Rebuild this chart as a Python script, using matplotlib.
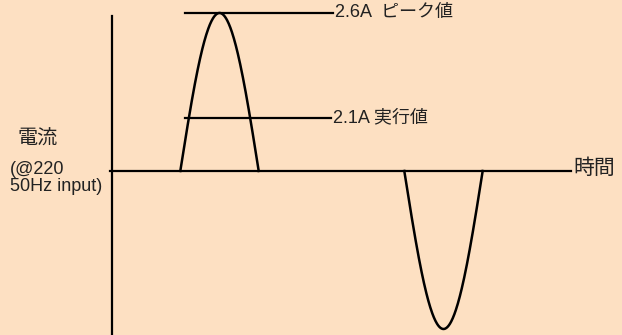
import numpy as np
import matplotlib.pyplot as plt

plt.rcParams['font.family'] = ['Liberation Sans', 'Noto Sans CJK JP']

# time axis in ms (50Hz input), current drawn in relative units (peak = 1)
pulse_centers = [4.8, 14.8]        # ms
pulse_signs = [1, -1]
pulse_halfwidth = 1.75             # ms
pulse_peak = 1.0
rms_level = 0.335                  # drawn level of the rms marker (not to scale)
peak_label = '2.6A  ピーク値'
rms_label = '2.1A 実行値'
x_label = '時間'
y_label = '電流'
y_note = '(@220\n50Hz input)'

bg = '#FDE0C2'
fig = plt.figure(figsize=(6.22, 3.35), dpi=100, facecolor=bg)
ax = fig.add_axes([0, 0, 1, 1])
ax.set_facecolor(bg)
ax.set_xlim(-5.0, 22.77)
ax.set_ylim(-1.038, 1.082)
ax.axis('off')

# axes
ax.plot([-0.1, 20.5], [0, 0], color='black', lw=1.6)
ax.plot([0, 0], [-1.1, 0.98], color='black', lw=1.6)

# current pulses
for c, s in zip(pulse_centers, pulse_signs):
    t = np.linspace(c - pulse_halfwidth, c + pulse_halfwidth, 200)
    i = s * pulse_peak * np.cos((t - c) / pulse_halfwidth * np.pi / 2)
    ax.plot(t, i, color='black', lw=1.8)

# peak and rms markers
ax.plot([3.26, 9.87], [pulse_peak, pulse_peak], color='black', lw=1.6)
ax.plot([3.26, 9.78], [rms_level, rms_level], color='black', lw=1.6)
ax.text(9.95, pulse_peak, peak_label, fontsize=13, va='center', ha='left', color='#222222')
ax.text(9.86, rms_level, rms_label, fontsize=13, va='center', ha='left', color='#222222')

ax.text(20.6, 0.02, x_label, fontsize=15, va='center', ha='left', color='#222222')
ax.text(-4.2, 0.20, y_label, fontsize=14.5, va='center', ha='left', color='#222222')
ax.text(-4.55, 0.06, y_note, fontsize=13, va='top', ha='left', color='#222222',
        linespacing=1.0)

fig.savefig('out.png', dpi=100, facecolor=bg)
